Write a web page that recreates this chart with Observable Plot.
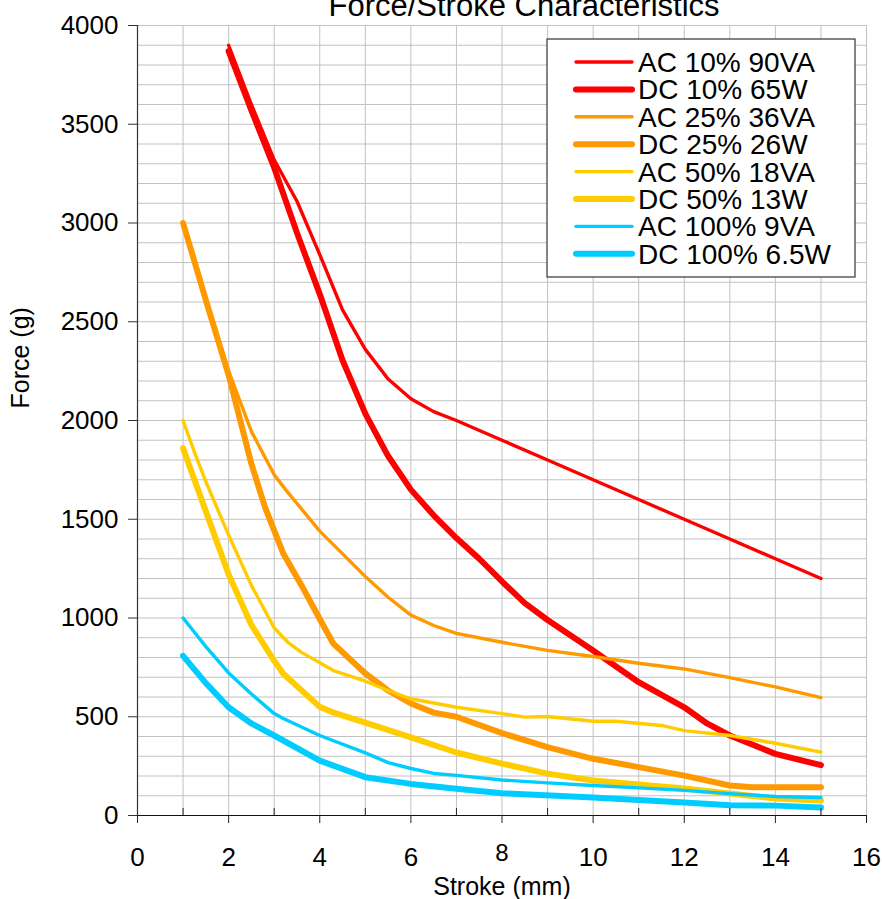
<!DOCTYPE html>
<html>
<head>
<meta charset="utf-8">
<script src="https://cdn.jsdelivr.net/npm/d3@7"></script>
<script src="https://cdn.jsdelivr.net/npm/@observablehq/plot@0.6"></script>
<style>
  html, body { margin: 0; padding: 0; background: #fff; }
  #chart { position: relative; width: 885px; height: 899px; overflow: hidden; }
</style>
</head>
<body>
<div id="chart"></div>
<script>
// ---- data ----
const titleText = "Force/Stroke Characteristics";
const xLabel = "Stroke (mm)";
const yLabel = "Force (g)";

const xMajorTicks = [0, 2, 4, 6, 10, 12, 14, 16];
const xRaisedTick = [8];
const xMinorTicks = [1, 3, 5, 7, 9, 11, 13, 15];
const yTicks = [0, 500, 1000, 1500, 2000, 2500, 3000, 3500, 4000];
const xGrid = [0,1,2,3,4,5,6,7,8,9,10,11,12,13,14,15,16];
const yGrid = d3.range(0, 4001, 100);

const seriesNames  = ["AC 10% 90VA", "DC 10% 65W", "AC 25% 36VA", "DC 25% 26W", "AC 50% 18VA", "DC 50% 13W", "AC 100% 9VA", "DC 100% 6.5W"];
const seriesColors = ["#FF0000", "#FF0000", "#FF9900", "#FF9900", "#FFCC00", "#FFCC00", "#00CCFF", "#00CCFF"];
const seriesWidths = [3.4, 6, 3.4, 6, 3.4, 6, 3.4, 6];

const xAC10 = [2, 2.5, 3, 3.5, 4, 4.5, 5, 5.5, 6, 6.5, 7, 8, 9, 10, 11, 12, 13, 14, 15];
const yAC10 = [3900, 3600, 3320, 3110, 2840, 2560, 2360, 2210, 2110, 2045, 2000, 1900, 1800, 1700, 1600, 1500, 1400, 1300, 1200];

const xDC10 = [2, 2.5, 3, 3.5, 4, 4.5, 5, 5.5, 6, 6.5, 7, 7.5, 8, 8.5, 9, 10, 11, 12, 12.5, 13, 14, 15];
const yDC10 = [3870, 3570, 3280, 2950, 2640, 2305, 2035, 1820, 1650, 1520, 1405, 1300, 1185, 1075, 990, 835, 675, 548, 466, 405, 312, 255];

const xAC25 = [1, 1.5, 2, 2.5, 3, 3.25, 4, 5, 5.5, 6, 6.5, 7, 8, 9, 10, 11, 12, 13, 14, 15];
const yAC25 = [3000, 2620, 2250, 1945, 1725, 1650, 1440, 1210, 1105, 1015, 962, 922, 877, 836, 805, 771, 742, 698, 651, 597];

const xDC25 = [1, 1.5, 2, 2.5, 2.8, 3.2, 3.6, 4, 4.3, 5, 5.5, 6, 6.5, 7, 8, 9, 10, 11, 12, 13, 13.5, 14, 15];
const yDC25 = [3000, 2610, 2230, 1780, 1560, 1326, 1165, 995, 870, 719, 633, 567, 521, 500, 417, 346, 287, 245, 202, 152, 143, 143, 143];

const xAC50 = [1, 1.25, 1.5, 2, 2.5, 3, 3.3, 3.6, 4.3, 5, 5.5, 6, 7, 8, 8.5, 9, 10, 10.5, 11.5, 12, 13, 14, 15];
const yAC50 = [2000, 1840, 1690, 1420, 1165, 950, 877, 826, 734, 680, 633, 591, 548, 516, 498, 501, 477, 477, 456, 430, 405, 366, 321];

const xDC50 = [1, 1.5, 2, 2.5, 3, 3.2, 4, 4.3, 5, 6, 7, 8, 9, 10, 11, 12, 13, 14, 15];
const yDC50 = [1860, 1540, 1220, 965, 783, 718, 550, 521, 470, 396, 319, 263, 212, 177, 157, 137, 111, 86, 76];

const xAC100 = [1, 1.5, 2, 2.5, 3, 3.2, 4, 5, 5.5, 6, 6.5, 7, 8, 9, 10, 11, 12, 13, 14, 15];
const yAC100 = [1000, 855, 722, 615, 516, 491, 405, 317, 268, 238, 213, 203, 180, 165, 152, 140, 127, 111, 96, 91];

const xDC100 = [1, 1.5, 2, 2.5, 3, 4, 5, 6, 7, 8, 10, 12, 13, 14, 15];
const yDC100 = [808, 670, 548, 466, 405, 278, 194, 160, 135, 113, 91, 66, 52, 50, 40];

const seriesX = [xAC10, xDC10, xAC25, xDC25, xAC50, xDC50, xAC100, xDC100];
const seriesY = [yAC10, yDC10, yAC25, yDC25, yAC50, yDC50, yAC100, yDC100];

// ---- build per-series tables ----
const tables = seriesNames.map((name, i) =>
  seriesX[i].map((x, j) => ({name, x, y: seriesY[i][j]}))
);

const FONT = "'Liberation Sans', Arial, Helvetica, sans-serif";
const gridColor = "#c2c2c2";

const chart = Plot.plot({
  width: 885,
  height: 899,
  marginLeft: 137,
  marginRight: 19,
  marginTop: 25,
  marginBottom: 84,
  style: {fontFamily: FONT, background: "#fff", color: "#000"},
  x: {domain: [0, 16]},
  y: {domain: [0, 4000]},
  marks: [
    Plot.gridX(xGrid, {stroke: gridColor, strokeOpacity: 1, strokeWidth: 1}),
    Plot.gridY(yGrid, {stroke: gridColor, strokeOpacity: 1, strokeWidth: 1}),
    ...tables.map((t, i) => Plot.line(t, {
      x: "x", y: "y",
      stroke: seriesColors[i],
      strokeWidth: seriesWidths[i],
      strokeLinecap: "round",
      strokeLinejoin: "round"
    })),
    Plot.ruleX([0], {stroke: "#333", strokeWidth: 1.2}),
    Plot.ruleY([0], {stroke: "#111", strokeWidth: 1.2}),
    Plot.axisY(yTicks, {anchor: "left", tickSize: 9, tickPadding: 10, fontSize: 26, label: null, stroke: "#333", tickFormat: d => String(d)}),
    Plot.axisX(xMajorTicks, {anchor: "bottom", tickSize: 8, tickPadding: 24, fontSize: 26, label: null, stroke: "#222", tickFormat: d => String(d)}),
    Plot.axisX(xRaisedTick, {anchor: "bottom", tickSize: 8, tickPadding: 20, fontSize: 24, label: null, stroke: "#222", tickFormat: d => String(d)}),
    Plot.tickX(xMinorTicks, {x: d => d, insetTop: 783, stroke: "#222", strokeWidth: 1}),
    Plot.text([titleText], {frameAnchor: "top", dx: 22, dy: -10, lineAnchor: "bottom", fontSize: 31, fill: "#000"}),
    Plot.text([xLabel], {frameAnchor: "bottom", dy: 71, lineAnchor: "middle", fontSize: 25, fill: "#000"}),
    Plot.text([yLabel], {frameAnchor: "left", dx: -117, dy: -12, rotate: -90, lineAnchor: "middle", fontSize: 25, fill: "#000"})
  ]
});

document.getElementById("chart").appendChild(chart);

// ---- legend (inside the plot area, top right) ----
const svg = d3.select(chart);
const lg = svg.append("g").attr("class", "legend").attr("text-anchor", "start");
const box = {x: 547, y: 39, w: 308, h: 238};
lg.append("rect")
  .attr("x", box.x).attr("y", box.y).attr("width", box.w).attr("height", box.h)
  .attr("fill", "#fff").attr("stroke", "#333").attr("stroke-width", 1.2);
seriesNames.forEach((name, i) => {
  const cy = 62 + i * 27.4;
  lg.append("line")
    .attr("x1", 576).attr("x2", 632).attr("y1", cy).attr("y2", cy)
    .attr("stroke", seriesColors[i]).attr("stroke-width", seriesWidths[i])
    .attr("stroke-linecap", "round");
  lg.append("text")
    .attr("x", 638).attr("y", cy).attr("dy", "0.36em")
    .attr("text-anchor", "start")
    .attr("font-size", 28).attr("font-family", FONT).attr("fill", "#000")
    .text(name);
});
</script>
</body>
</html>
